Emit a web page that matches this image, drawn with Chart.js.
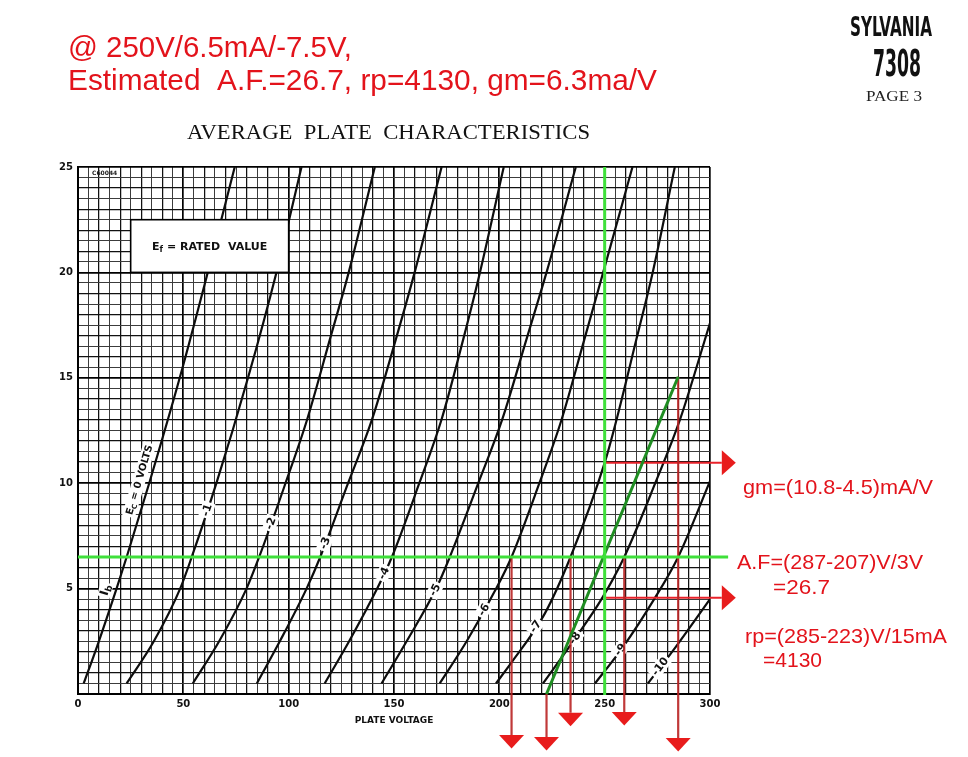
<!DOCTYPE html>
<html>
<head>
<meta charset="utf-8">
<title>Sylvania 7308 - Average Plate Characteristics</title>
<script src="https://cdn.jsdelivr.net/npm/chart.js@4.4.1/dist/chart.umd.min.js"></script>
<style>
  html, body { margin: 0; padding: 0; background: #fff; }
  canvas { display: block; }
</style>
</head>
<body>
<canvas id="plate" width="968" height="757"></canvas>
<script>
// grid bias of each curve, volts
const gridBias = [0, -1, -2, -3, -4, -5, -6, -7, -8, -9, -10];

const plateV = [
  [2.7, 9.2, 18.3, 23.1, 33.8, 48.3, 61.6, 74.4],
  [23.1, 36, 48.5, 54, 65.7, 80.7, 94.2, 106.1],
  [54.5, 67, 80, 86, 98.5, 108.7, 119.5, 128.5, 140.9],
  [84.9, 95.8, 108.5, 115, 128.2, 139.5, 150.8, 159.8, 172.6],
  [117.1, 128.7, 142, 149, 162, 172.5, 182.8, 190.8, 202.1],
  [144.1, 156, 170, 176.5, 190, 201.3, 212.8, 222.4, 236.3],
  [171.7, 184.5, 198.5, 205.8, 219, 229.5, 240.3, 249.3, 263.2],
  [198.4, 205.8, 221.5, 233.8, 250.1, 255.6, 265, 272.8, 283.3],
  [220.7, 236, 248.5, 259.3, 274, 285.7, 300],
  [245.4, 258.5, 273.5, 284.9, 300],
  [270.5, 283.5, 300]
];
// ... and the plate current (mA) at those points
const plateI = [
  [0.5, 2.3, 5, 6.5, 10, 15, 20, 25],
  [0.5, 2.5, 5, 6.5, 10, 15, 20, 25],
  [0.5, 2.5, 5, 6.5, 10, 13, 16.8, 20, 25],
  [0.5, 2.5, 5, 6.5, 10, 13, 16.8, 20, 25],
  [0.5, 2.5, 5, 6.5, 10, 13, 16.8, 20, 25],
  [0.5, 2.5, 5, 6.5, 10, 13, 16.8, 20, 25],
  [0.5, 2.5, 5, 6.5, 10, 13, 16.8, 20, 25],
  [0.5, 1.5, 3.8, 6.5, 11, 13, 16.8, 20, 25],
  [0.5, 2.64, 4.5, 6.5, 10, 13, 17.6],
  [0.5, 2.2, 4.5, 6.5, 10.1],
  [0.5, 2.2, 4.5]
];

const xTickLabels = [0, 50, 100, 150, 200, 250, 300];
const yTickLabels = [5, 10, 15, 20, 25];

// hand-drawn analysis on top of the sheet (volts / mA)
const opVolts = 250, opMilliamps = 6.5;
const greenRunTo = 308.6;                 // horizontal green line runs past the frame
const tangentV = [222.4, 284.9], tangentI = [0, 15.05];
const dropV = [205.8, 222.4, 233.8, 259.3, 284.9];
const dropFrom = [6.5, 0, 6.5, 6.5, 15.05];
const dropTo = [-1.94, -2.04, -0.89, -0.85, -2.09];
const gmI = [10.97, 4.57], gmTo = 305.6;

// where the bias numbers sit along each curve (mA)
const tagI = [10.15, 8.72, 8.09, 7.15, 5.72, 4.93, 3.98, 3.19, 2.64, 2.09, 1.29];

const RED = '#e3131b';
const sans = '"Liberation Sans", Arial, sans-serif';
const serif = '"Liberation Serif", "Times New Roman", serif';
const dv = '"DejaVu Sans", sans-serif';
const dvc = '"DejaVu Sans Condensed", "DejaVu Sans", sans-serif';

function vAt(k, mA) {
  const vs = plateV[k], is = plateI[k];
  for (let n = 1; n < is.length; n++) {
    if (mA <= is[n]) {
      const t = (mA - is[n - 1]) / (is[n] - is[n - 1]);
      return vs[n - 1] + t * (vs[n] - vs[n - 1]);
    }
  }
  return vs[vs.length - 1];
}

// draw text stretched/squeezed to a given width, left edge at x
function fit(ctx, str, x, y, w, font, color) {
  ctx.save();
  ctx.font = font;
  ctx.fillStyle = color;
  ctx.textBaseline = 'alphabetic';
  const m = ctx.measureText(str).width;
  ctx.translate(x, y);
  ctx.scale(w / m, 1);
  ctx.fillText(str, 0, 0);
  ctx.restore();
}

// rotated tag made of pieces [text, font, dy], white patch behind
function tag(ctx, cx, cy, ang, parts, blank) {
  ctx.save();
  ctx.translate(cx, cy);
  ctx.rotate(ang);
  let w = 0;
  parts.forEach(p => { ctx.font = p[1]; w += ctx.measureText(p[0]).width; });
  if (blank) {
    ctx.fillStyle = '#fff';
    ctx.fillRect(-w / 2 - 2, -7, w + 4, 13);
  }
  ctx.fillStyle = '#111';
  ctx.textBaseline = 'middle';
  let x = -w / 2;
  parts.forEach(p => {
    ctx.font = p[1];
    ctx.fillText(p[0], x, p[2]);
    x += ctx.measureText(p[0]).width;
  });
  ctx.restore();
}

function slopeAngle(sx, sy, k, mA) {
  const a = Math.max(mA - 0.8, 0.5), b = mA + 0.8;
  const x1 = sx.getPixelForValue(vAt(k, a)), y1 = sy.getPixelForValue(a);
  const x2 = sx.getPixelForValue(vAt(k, b)), y2 = sy.getPixelForValue(b);
  return Math.atan2(y2 - y1, x2 - x1);
}

const sheet = {
  id: 'sheet',
  beforeDraw(chart) {
    const c = chart.ctx;
    c.save();
    c.fillStyle = '#fff';
    c.fillRect(0, 0, chart.width, chart.height);
    c.restore();
  },
  // after the last curve is drawn: the printed box and curve tags
  afterDatasetDraw(chart, args) {
    if (args.index !== 0) return;
    const ctx = chart.ctx, sx = chart.scales.x, sy = chart.scales.y;
    const bx0 = sx.getPixelForValue(25), bx1 = sx.getPixelForValue(100);
    const by0 = sy.getPixelForValue(22.5), by1 = sy.getPixelForValue(20);
    ctx.save();
    ctx.fillStyle = '#fff';
    ctx.fillRect(bx0, by0, bx1 - bx0, by1 - by0);
    ctx.strokeStyle = '#000';
    ctx.lineWidth = 1.6;
    ctx.strokeRect(bx0, by0, bx1 - bx0, by1 - by0);
    ctx.restore();
    tag(ctx, (bx0 + bx1) / 2, (by0 + by1) / 2 + 1, 0,
      [['E', 'bold 11px ' + dv, 0], ['f', 'bold 8px ' + dv, 3], [' = RATED  VALUE', 'bold 11px ' + dv, 0]], false);

    ctx.save();
    ctx.fillStyle = '#222';
    ctx.font = 'bold 6px ' + dv;
    ctx.fillText('C60044', 92, 175);
    ctx.restore();

    // Ec = 0 label sits just left of the first curve
    const a0 = slopeAngle(sx, sy, 0, tagI[0]);
    tag(ctx, sx.getPixelForValue(29.3), sy.getPixelForValue(tagI[0]), a0,
      [['E', 'bold 10px ' + dv, 0], ['C', 'bold 7px ' + dv, 3], [' = 0 VOLTS', 'bold 10px ' + dv, 0]], true);
    tag(ctx, sx.getPixelForValue(13.2), sy.getPixelForValue(4.93), a0,
      [['I', 'bold 12px ' + dv, 0], ['b', 'bold 9px ' + dv, 3]], true);
    for (let k = 1; k < gridBias.length; k++) {
      const mA = tagI[k];
      const px = sx.getPixelForValue(vAt(k, mA)), py = sy.getPixelForValue(mA);
      tag(ctx, px, py, slopeAngle(sx, sy, k, mA), [[String(gridBias[k]), 'bold 11px ' + dv, 0]], true);
    }
  },
  afterDraw(chart) {
    const ctx = chart.ctx, sx = chart.scales.x, sy = chart.scales.y;
    ctx.save();
    ctx.fillStyle = '#e81c1c';
    dropV.forEach((v, n) => {
      const px = sx.getPixelForValue(v), py = sy.getPixelForValue(dropTo[n]);
      ctx.beginPath();
      ctx.moveTo(px - 12.5, py);
      ctx.lineTo(px + 12.5, py);
      ctx.lineTo(px, py + 13.5);
      ctx.closePath();
      ctx.fill();
    });
    gmI.forEach(i => {
      const px = sx.getPixelForValue(gmTo), py = sy.getPixelForValue(i);
      ctx.beginPath();
      ctx.moveTo(px, py - 12.5);
      ctx.lineTo(px, py + 12.5);
      ctx.lineTo(px + 14, py);
      ctx.closePath();
      ctx.fill();
    });
    ctx.restore();

    fit(ctx, '@ 250V/6.5mA/-7.5V,', 68, 57, 284, '29px ' + sans, RED);
    fit(ctx, 'Estimated  A.F.=26.7, rp=4130, gm=6.3ma/V', 68, 90, 589, '29px ' + sans, RED);
    fit(ctx, 'AVERAGE  PLATE  CHARACTERISTICS', 187, 139, 403, '22px ' + serif, '#111');
    fit(ctx, 'SYLVANIA', 850, 36, 82, 'bold 26px ' + dvc, '#111');
    fit(ctx, '7308', 873, 76, 48, 'bold 38px ' + dvc, '#111');
    fit(ctx, 'PAGE 3', 866, 101, 56, '15px ' + serif, '#222');

    fit(ctx, 'gm=(10.8-4.5)mA/V', 743, 494, 190, '21px ' + sans, RED);
    fit(ctx, 'A.F=(287-207)V/3V', 737, 569, 186, '21px ' + sans, RED);
    fit(ctx, '=26.7', 773, 594, 57, '21px ' + sans, RED);
    fit(ctx, 'rp=(285-223)V/15mA', 745, 643, 202, '21px ' + sans, RED);
    fit(ctx, '=4130', 763, 667, 59, '21px ' + sans, RED);
  }
};

const curveSets = plateV.map((vs, k) => ({
  label: 'Ec = ' + gridBias[k] + ' V',
  data: vs.map((v, n) => ({ x: v, y: plateI[k][n] })),
  borderColor: '#0d0d0d',
  borderWidth: 2.2,
  pointRadius: 0,
  cubicInterpolationMode: 'monotone',
  order: 2
}));

function mark(pts, color, width) {
  return {
    data: pts.map(p => ({ x: p[0], y: p[1] })),
    borderColor: color,
    borderWidth: width,
    pointRadius: 0,
    clip: false,
    order: 1
  };
}

const marks = [
  mark([[0, opMilliamps], [greenRunTo, opMilliamps]], '#3fe03a', 3),
  mark([[opVolts, -0.05], [opVolts, 25]], '#3fe03a', 3),
  mark([[tangentV[0], tangentI[0]], [tangentV[1], tangentI[1]]], '#1f8d22', 3),
  ...dropV.map((v, n) => mark([[v, dropFrom[n]], [v, dropTo[n]]], 'rgba(185,35,35,0.9)', 2.2)),
  ...gmI.map(i => mark([[opVolts, i], [gmTo, i]], '#e8222a', 2))
];

function gridColor(big, mid) {
  return c => {
    const v = c.tick.value;
    if (Math.abs(v % big) < 1e-6) return '#000';
    if (Math.abs(v % mid) < 1e-6) return '#111';
    return '#3c3c3c';
  };
}
function gridWidth(big, mid) {
  return c => {
    const v = c.tick.value;
    if (Math.abs(v % big) < 1e-6) return 1.7;
    if (Math.abs(v % mid) < 1e-6) return 1.25;
    return 1;
  };
}

new Chart(document.getElementById('plate'), {
  type: 'line',
  data: { datasets: [...curveSets, ...marks] },
  options: {
    responsive: false,
    animation: false,
    layout: { padding: { top: 167, right: 258, left: 0, bottom: 0 }, autoPadding: false },
    plugins: { legend: { display: false }, tooltip: { enabled: false } },
    scales: {
      x: {
        type: 'linear', min: 0, max: 300,
        afterFit: s => { s.height = 63; },
        ticks: {
          stepSize: 5, autoSkip: false, maxRotation: 0, maxTicksLimit: 200, padding: 4,
          color: '#111', font: { family: dv, size: 10, weight: 'bold' },
          callback: v => xTickLabels.includes(v) ? String(v) : ''
        },
        grid: { color: gridColor(50, 10), lineWidth: gridWidth(50, 10), drawTicks: false },
        border: { color: '#000', width: 2 },
        title: {
          display: true, text: 'PLATE VOLTAGE', color: '#111',
          font: { family: dv, size: 9, weight: 'bold' }, padding: { top: 0, bottom: 31 }
        }
      },
      y: {
        type: 'linear', min: 0, max: 25,
        afterFit: s => { s.width = 78; },
        ticks: {
          stepSize: 0.5, autoSkip: false, maxTicksLimit: 200, padding: 5,
          color: '#111', font: { family: dv, size: 10, weight: 'bold' },
          callback: v => yTickLabels.includes(v) ? String(v) : ''
        },
        grid: { color: gridColor(5, 1), lineWidth: gridWidth(5, 1), drawTicks: false },
        border: { color: '#000', width: 2 }
      }
    }
  },
  plugins: [sheet]
});
</script>
</body>
</html>
